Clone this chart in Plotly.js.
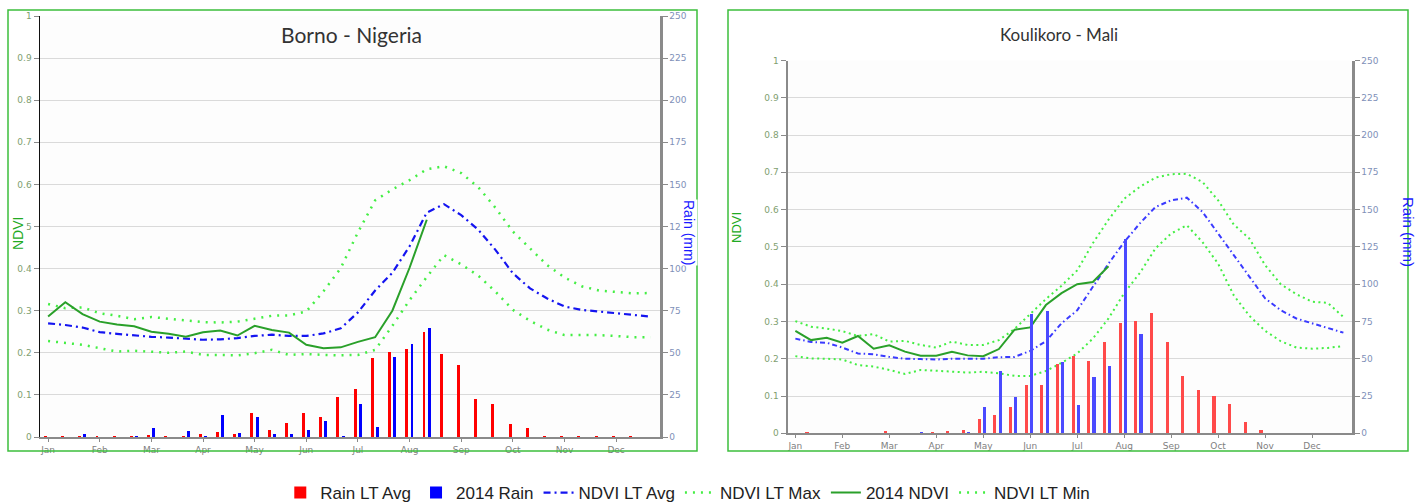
<!DOCTYPE html>
<html>
<head>
<meta charset="utf-8">
<script src="https://cdn.plot.ly/plotly-3.0.1.min.js"></script>
<style>
html,body{margin:0;padding:0;background:#ffffff;}
#chart{width:1424px;height:504px;}
</style>
</head>
<body>
<div id="chart"></div>
<script>
// ---------- categories ----------
const months = ['Jan','Feb','Mar','Apr','May','Jun','Jul','Aug','Sep','Oct','Nov','Dec'];
const dekads = [];
months.forEach(m => { for (let d = 1; d <= 3; d++) dekads.push(m + '-' + d); });
const monthTickVals = months.map(m => m + '-1');

// ---------- Borno - Nigeria ----------
const bornoRainLTAvg = [0.4,0.4,0.4,0.4,0.4,0.4,1.2,0.4,0.4,2.0,3.0,1.8,14.0,4.4,8.4,14.4,12.0,24.0,28.6,47.0,50.6,52.4,62.3,49.0,43.0,22.6,19.4,7.7,5.2,0.4,0.4,0.4,0.4,0.4,0.4,0.0];
const bornoRain2014 = [0,0,2.0,0,0,0.8,5.6,0,3.4,0.8,13.0,2.2,12.0,1.8,1.8,4.4,9.8,0.8,19.6,6.0,47.4,55.2,64.5];
const bornoNdviLTAvg = [0.270,0.266,0.260,0.249,0.245,0.241,0.238,0.236,0.234,0.231,0.232,0.235,0.240,0.243,0.240,0.240,0.246,0.258,0.296,0.348,0.390,0.453,0.533,0.553,0.527,0.492,0.444,0.389,0.353,0.329,0.310,0.302,0.298,0.294,0.290,0.286];
const bornoNdviLTMax = [0.316,0.306,0.308,0.294,0.288,0.280,0.285,0.281,0.278,0.273,0.272,0.274,0.281,0.288,0.289,0.298,0.346,0.401,0.486,0.562,0.588,0.610,0.636,0.643,0.627,0.593,0.544,0.488,0.448,0.408,0.379,0.358,0.348,0.344,0.341,0.342];
const bornoNdvi2014 = [0.286,0.320,0.292,0.274,0.267,0.263,0.250,0.245,0.238,0.249,0.253,0.241,0.264,0.254,0.248,0.219,0.211,0.213,0.226,0.237,0.300,0.402,0.516];
const bornoNdviLTMin = [0.228,0.224,0.219,0.211,0.203,0.205,0.202,0.200,0.203,0.195,0.195,0.194,0.199,0.207,0.195,0.197,0.195,0.194,0.195,0.207,0.264,0.325,0.380,0.432,0.410,0.383,0.345,0.302,0.276,0.255,0.242,0.242,0.242,0.240,0.237,0.237];

// ---------- Koulikoro - Mali ----------
const kouliRainLTAvg = [0,1.0,0,0,0,0,1.8,0,0,1.0,1.8,2.2,9.8,12.3,17.4,32.6,32.7,46.2,52.0,48.4,61.4,74.1,75.0,81.0,61.4,38.4,29.0,25.0,19.6,7.8,2.0,0,0,0,0,0];
const kouliRain2014 = [0,0,0,0,0,0,0,0,1.0,0,0,1.0,17.9,42.0,24.6,79.7,82.0,47.5,18.8,37.5,45.0,130.0,66.5];
const kouliNdviLTAvg = [0.254,0.245,0.243,0.230,0.214,0.212,0.205,0.200,0.199,0.198,0.200,0.199,0.200,0.204,0.205,0.221,0.247,0.295,0.330,0.393,0.455,0.513,0.563,0.607,0.625,0.632,0.594,0.536,0.478,0.420,0.362,0.330,0.308,0.295,0.283,0.270];
const kouliNdviLTMax = [0.301,0.286,0.281,0.274,0.261,0.266,0.246,0.248,0.237,0.230,0.246,0.237,0.237,0.250,0.280,0.319,0.360,0.396,0.437,0.510,0.573,0.629,0.661,0.686,0.695,0.696,0.674,0.625,0.560,0.522,0.451,0.400,0.373,0.353,0.350,0.312];
const kouliNdvi2014 = [0.275,0.250,0.256,0.243,0.261,0.227,0.236,0.219,0.208,0.208,0.219,0.209,0.207,0.226,0.278,0.284,0.344,0.376,0.400,0.406,0.448];
const kouliNdviLTMin = [0.207,0.201,0.200,0.198,0.183,0.179,0.170,0.159,0.170,0.168,0.165,0.163,0.165,0.161,0.154,0.154,0.167,0.189,0.214,0.254,0.308,0.376,0.430,0.496,0.536,0.558,0.513,0.455,0.370,0.315,0.275,0.247,0.230,0.227,0.229,0.234];

// ---------- layout helpers ----------
const W = 1424, H = 504;
const px = x => x / W;
const py = y => 1 - y / H;

const GREEN_LINE = '#2aa02a';
const GREEN_DOT = '#44ee44';

function seriesTraces(rainAvg, rain2014, nAvg, nMax, n2014, nMin, xa, yN, yR, isLeft) {
  const barW = isLeft ? 0.17 : 0.2;
  const redC = isLeft ? -0.16 : -0.26;
  const blueC = isLeft ? 0.14 : 0.075;
  const dashdot = isLeft ? '7px,4px,2px,4px' : '5px,3px,1.5px,3px';
  const dotted = isLeft ? '2px,6px' : '2px,3.5px';
  return [
    {type:'bar', name:'Rain LT Avg', x:dekads.slice(0, rainAvg.length), y:rainAvg, xaxis:xa, yaxis:yR,
     width:barW, offset:redC - barW/2, marker:{color: isLeft ? '#ff0000' : '#ff4a4a', line:{width:0}},
     showlegend:isLeft, legendgroup:'ra'},
    {type:'bar', name:'2014 Rain', x:dekads.slice(0, rain2014.length), y:rain2014, xaxis:xa, yaxis:yR,
     width:barW, offset:blueC - barW/2, marker:{color: isLeft ? '#0000ff' : '#4a4aff', line:{width:0}},
     showlegend:isLeft, legendgroup:'rb'},
    {type:'scatter', mode:'lines', name:'NDVI LT Avg', x:dekads.slice(0, nAvg.length), y:nAvg, xaxis:xa, yaxis:yN,
     line:{color: isLeft ? '#1414f0' : '#3a3aff', width: isLeft ? 2.2 : 2, dash:dashdot},
     showlegend:isLeft, legendgroup:'na'},
    {type:'scatter', mode:'lines', name:'NDVI LT Max', x:dekads.slice(0, nMax.length), y:nMax, xaxis:xa, yaxis:yN,
     line:{color:GREEN_DOT, width: isLeft ? 2.5 : 2, dash:dotted},
     showlegend:isLeft, legendgroup:'nx'},
    {type:'scatter', mode:'lines', name:'2014 NDVI', x:dekads.slice(0, n2014.length), y:n2014, xaxis:xa, yaxis:yN,
     line:{color:GREEN_LINE, width:2},
     showlegend:isLeft, legendgroup:'n4'},
    {type:'scatter', mode:'lines', name:'NDVI LT Min', x:dekads.slice(0, nMin.length), y:nMin, xaxis:xa, yaxis:yN,
     line:{color:GREEN_DOT, width: isLeft ? 2.5 : 2, dash:dotted},
     showlegend:isLeft, legendgroup:'nn'}
  ];
}

const data = [].concat(
  seriesTraces(bornoRainLTAvg, bornoRain2014, bornoNdviLTAvg, bornoNdviLTMax, bornoNdvi2014, bornoNdviLTMin, 'x', 'y', 'y2', true),
  seriesTraces(kouliRainLTAvg, kouliRain2014, kouliNdviLTAvg, kouliNdviLTMax, kouliNdvi2014, kouliNdviLTMin, 'x2', 'y3', 'y4', false)
);

const tickFontN = {family:'DejaVu Sans', size:9, color:'#7fa070'};
const tickFontR = {family:'DejaVu Sans', size:9, color:'#8090b8'};
const tickFontX = {family:'DejaVu Sans', size:9, color:'#808080'};

function xAxis(domain, anchor) {
  return {domain:domain, anchor:anchor, type:'category', categoryorder:'array', categoryarray:dekads,
    range:[-0.47, 35.55], tickmode:'array', tickvals:monthTickVals, ticktext:months,
    showline:true, linecolor:'#8a8a8a', linewidth:2, ticks:'outside', ticklen:3, tickcolor:'#8a8a8a',
    tickfont:tickFontX, showgrid:false, zeroline:false, fixedrange:true};
}
function yNdvi(domain, anchor, lineColor, lineWidth) {
  return {domain:domain, anchor:anchor, range:[0,1], dtick:0.1, tick0:0,
    showline:true, linecolor:lineColor, linewidth:lineWidth, ticks:'outside', ticklen:5, tickcolor:'#8a8a8a',
    tickfont:tickFontN, showgrid:true, gridcolor:'#dadada', gridwidth:1, zeroline:false, fixedrange:true};
}
function yRain(overlay, anchor) {
  return {overlaying:overlay, anchor:anchor, side:'right', range:[0,250], dtick:25, tick0:0,
    showline:true, linecolor:'#8a8a8a', linewidth:2.5, ticks:'outside', ticklen:5, tickcolor:'#8a8a8a',
    tickfont:tickFontR, showgrid:false, zeroline:false, fixedrange:true};
}

const layout = {
  width:W, height:H,
  margin:{l:0, r:0, t:0, b:0, pad:0, autoexpand:false},
  paper_bgcolor:'#ffffff',
  plot_bgcolor:'#fdfdfd',
  barmode:'overlay',
  bargap:0,
  showlegend:true,
  legend:{orientation:'h', x:0.483, xanchor:'center', y:py(493), yanchor:'middle',
    font:{family:'Liberation Sans, Arial, sans-serif', size:17, color:'#222'},
    bgcolor:'rgba(0,0,0,0)', traceorder:'normal'},
  xaxis: xAxis([px(40), px(660)], 'y'),
  yaxis: yNdvi([py(437), py(16)], 'x', '#111111', 1.5),
  yaxis2: yRain('y', 'x'),
  xaxis2: xAxis([px(788), px(1352)], 'y3'),
  yaxis3: yNdvi([py(433.3), py(60.5)], 'x2', '#8a8a8a', 2.5),
  yaxis4: yRain('y3', 'x2'),
  shapes:[
    {type:'rect', xref:'paper', yref:'paper', x0:px(8), x1:px(697), y0:py(451), y1:py(10),
     line:{color:'#3cbf3c', width:1.5}, fillcolor:'rgba(0,0,0,0)', layer:'above'},
    {type:'rect', xref:'paper', yref:'paper', x0:px(728), x1:px(1408), y0:py(451), y1:py(10),
     line:{color:'#3cbf3c', width:1.5}, fillcolor:'rgba(0,0,0,0)', layer:'above'}
  ],
  annotations:[
    {text:'Borno - Nigeria', xref:'paper', yref:'paper', x:px(351.5), y:py(35), xanchor:'center', yanchor:'middle',
     showarrow:false, font:{family:'Lato, sans-serif', size:21, color:'#333333'}},
    {text:'Koulikoro - Mali', xref:'paper', yref:'paper', x:px(1058.5), y:py(35), xanchor:'center', yanchor:'middle',
     showarrow:false, font:{family:'Lato, sans-serif', size:17, color:'#333333'}},
    {text:'NDVI', xref:'paper', yref:'paper', x:px(18), y:py(234), xanchor:'center', yanchor:'middle', textangle:-90,
     showarrow:false, bgcolor:'#ffffff', borderpad:0, font:{family:'Liberation Sans, Arial, sans-serif', size:14, color:'#22aa22'}},
    {text:'Rain (mm)', xref:'paper', yref:'paper', x:px(689), y:py(232), xanchor:'center', yanchor:'middle', textangle:90,
     showarrow:false, bgcolor:'#ffffff', borderpad:0, font:{family:'Liberation Sans, Arial, sans-serif', size:14, color:'#1a1aff'}},
    {text:'NDVI', xref:'paper', yref:'paper', x:px(737), y:py(228), xanchor:'center', yanchor:'middle', textangle:-90,
     showarrow:false, font:{family:'Liberation Sans, Arial, sans-serif', size:13, color:'#22aa22'}},
    {text:'Rain (mm)', xref:'paper', yref:'paper', x:px(1408), y:py(232), xanchor:'center', yanchor:'middle', textangle:90,
     showarrow:false, font:{family:'Liberation Sans, Arial, sans-serif', size:15, color:'#1a1aff'}}
  ]
};

Plotly.newPlot('chart', data, layout, {displayModeBar:false, staticPlot:true});
</script>
</body>
</html>
